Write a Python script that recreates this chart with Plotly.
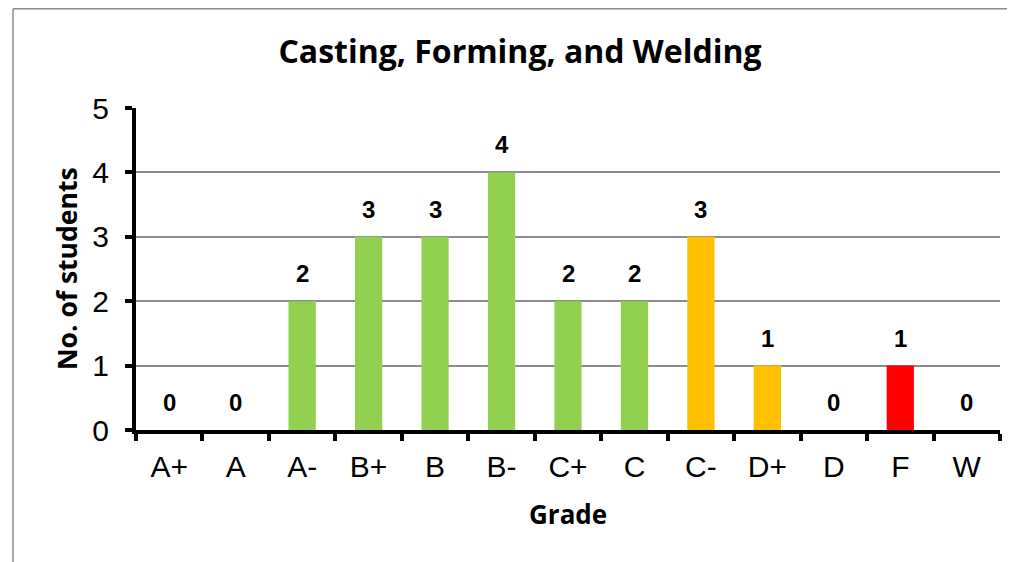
import plotly.graph_objects as go

grades = ["A+", "A", "A-", "B+", "B", "B-", "C+", "C", "C-", "D+", "D", "F", "W"]
counts = [0, 0, 2, 3, 3, 4, 2, 2, 3, 1, 0, 1, 0]
colors = ["#92D050"] * 8 + ["#FFC000", "#FFC000", "#FFC000", "#FF0000", "#FF0000"]
y_ticks = [0, 1, 2, 3, 4, 5]

TITLE_FONT = "Open Sans, Carlito, Calibri"
TICK_FONT = "Liberation Sans, Arial"

fig = go.Figure()
fig.add_trace(go.Bar(
    x=grades, y=counts, marker=dict(color=colors, line=dict(width=0)),
    hoverinfo="x+y",
))

annotations = []
for g, c in zip(grades, counts):
    annotations.append(dict(
        x=g, y=c, xref="x", yref="y", text=f"<b>{c}</b>", showarrow=False,
        yanchor="bottom", yshift=12,
        font=dict(family=TICK_FONT, size=24, color="black"),
    ))
annotations.append(dict(
    text="<b>No. of students</b>", xref="paper", yref="paper",
    x=(59 - 128) / 864, y=0.5, xanchor="center", yanchor="middle",
    textangle=-90, showarrow=False,
    font=dict(family=TITLE_FONT, size=26.5, color="black"),
))
annotations.append(dict(
    text="<b>Grade</b>", xref="paper", yref="paper",
    x=0.5, y=-(506 - 422) / 322, xanchor="center", yanchor="middle",
    showarrow=False,
    font=dict(family=TITLE_FONT, size=26, color="black"),
))

x_left = (5 - 128) / 864
y_top = 1 + 99.2 / 322
border = dict(color="#8c8c8c", width=1.5)

fig.update_layout(
    width=1015, height=562,
    margin=dict(l=128, r=23, t=100, b=140),
    paper_bgcolor="white", plot_bgcolor="white",
    showlegend=False, bargap=0.59,
    title=dict(text="<b>Casting, Forming, and Welding</b>", x=512 / 1015, xanchor="center",
               y=1 - 44 / 562, yanchor="middle",
               font=dict(family=TITLE_FONT, size=32, color="black")),
    xaxis=dict(
        type="category", tickson="boundaries", ticks="outside", ticklen=7, tickwidth=4,
        tickcolor="black", showline=True, linecolor="black", linewidth=4,
        tickfont=dict(family=TICK_FONT, size=30, color="black"),
        ticklabelstandoff=7,
        showgrid=False, zeroline=False,
    ),
    yaxis=dict(
        range=[0, 5], tickvals=y_ticks, ticks="outside", ticklen=7, tickwidth=4,
        tickcolor="black", showline=True, linecolor="black", linewidth=4,
        tickfont=dict(family=TICK_FONT, size=30, color="black"),
        ticklabelstandoff=10,
        showgrid=True, gridcolor="#8c8c8c", gridwidth=1.5, zeroline=False,
    ),
    annotations=annotations,
    shapes=[
        dict(type="line", xref="paper", yref="paper", x0=x_left, x1=1.2, y0=y_top, y1=y_top,
             line=border, layer="below"),
        dict(type="line", xref="paper", yref="paper", x0=x_left, x1=x_left, y0=-0.6, y1=y_top,
             line=border, layer="below"),
    ],
)

fig.write_html("out.html")
